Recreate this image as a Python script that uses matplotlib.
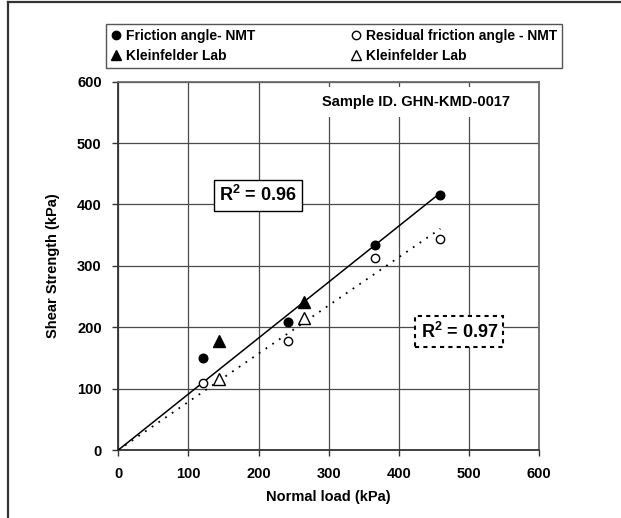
import matplotlib.pyplot as plt
import numpy as np
from matplotlib.lines import Line2D

plt.rcParams['font.family'] = ['Liberation Sans', 'DejaVu Sans']
plt.rcParams['font.weight'] = 'bold'
plt.rcParams['mathtext.fontset'] = 'custom'
plt.rcParams['mathtext.rm'] = 'Liberation Sans:bold'
plt.rcParams['mathtext.bf'] = 'Liberation Sans:bold'

# friction angle - NMT
nmt_x = [120, 242, 366, 459]
nmt_y = [150, 208, 334, 415]
# residual friction angle - NMT
res_x = [120, 242, 366, 459]
res_y = [109, 177, 312, 344]
# Kleinfelder lab
kl_x = [143, 264]
kl_y = [177, 241]
kl_res_y = [116, 215]

r2_peak = 0.96
r2_res = 0.97
sample_id = 'Sample ID. GHN-KMD-0017'

fig = plt.figure(figsize=(6.21, 5.18), dpi=100)
ax = fig.add_axes([118.3 / 621, 1 - 450 / 518, 421 / 621, 368.3 / 518])

# fits through the origin
def fit0(x, y):
    x = np.asarray(x, float)
    y = np.asarray(y, float)
    return (x * y).sum() / (x * x).sum()

k1 = fit0(nmt_x, nmt_y)
k2 = fit0(res_x, res_y)
xx = np.array([0, max(nmt_x)])
ax.plot(xx, k1 * xx, color='black', lw=1.1, zorder=3)
ax.plot(xx, k2 * xx, color='black', lw=1.3, ls=(0, (1, 3.5)), zorder=3)

ax.plot(nmt_x, nmt_y, 'o', color='black', ms=6.2, zorder=4)
ax.plot(res_x, res_y, 'o', mfc='white', mec='black', mew=1.0, ms=6.0, zorder=4)
ax.plot(kl_x, kl_y, '^', color='black', ms=8, zorder=4)
ax.plot(kl_x, kl_res_y, '^', mfc='white', mec='black', mew=1.0, ms=8, zorder=4)

ax.set_xlim(0, 600)
ax.set_ylim(0, 600)
ax.set_xticks(range(0, 601, 100))
ax.set_yticks(range(0, 601, 100))
ax.grid(True, color='#4a4a4a', lw=0.9)
ax.set_axisbelow(True)
for s in ax.spines.values():
    s.set_color('#6a6a6a')
    s.set_linewidth(1.3)
ax.spines['left'].set_color('#333333')
ax.spines['bottom'].set_color('#333333')
ax.tick_params(direction='out', length=4, width=1, color='#333333',
               labelsize=10.5, pad=8)
ax.set_xlabel('Normal load (kPa)', fontsize=10.5, fontweight='bold', labelpad=7)
ax.set_ylabel('Shear Strength (kPa)', fontsize=10.5, fontweight='bold', labelpad=12)

ax.text(424, 567, sample_id, ha='center', va='center', fontsize=10.5,
        fontweight='bold', zorder=5,
        bbox=dict(facecolor='white', edgecolor='none', pad=6))

ax.text(199, 415, 'R$^{2}$ = %.2f' % r2_peak, ha='center', va='center',
        fontsize=13, fontweight='bold', zorder=5,
        bbox=dict(facecolor='white', edgecolor='black', lw=1,
                  boxstyle='square,pad=0.3'))
ax.text(486, 193, 'R$^{2}$ = %.2f' % r2_res, ha='center', va='center',
        fontsize=13, fontweight='bold', zorder=5,
        bbox=dict(facecolor='white', edgecolor='black', lw=1.5, ls=(0, (2, 2)),
                  boxstyle='square,pad=0.3'))

handles = [
    Line2D([], [], ls='none', marker='o', color='black', ms=6),
    Line2D([], [], ls='none', marker='^', color='black', ms=7),
    Line2D([], [], ls='none', marker='o', mfc='white', mec='black', ms=6),
    Line2D([], [], ls='none', marker='^', mfc='white', mec='black', ms=7),
]
labels = ['Friction angle- NMT', 'Kleinfelder Lab',
          'Residual friction angle - NMT', 'Kleinfelder Lab']
leg = fig.legend(handles, labels, ncol=2, mode='expand',
                 bbox_to_anchor=(106 / 621, 1 - 68 / 518, 456 / 621, 49 / 518),
                 loc='lower left', fontsize=10, handlelength=0.8,
                 handletextpad=0.3, labelspacing=0.45, borderaxespad=0,
                 fancybox=False, edgecolor='#555555', framealpha=1,
                 borderpad=0.35)
leg.get_frame().set_linewidth(1.0)
for t in leg.get_texts():
    t.set_fontweight('bold')

# figure frame (left and top edges)
fig.add_artist(Line2D([8 / 621, 8 / 621], [0, 1 - 1.7 / 518],
                      transform=fig.transFigure, color='#333333', lw=1.6))
fig.add_artist(Line2D([8 / 621, 1], [1 - 1.7 / 518, 1 - 1.7 / 518],
                      transform=fig.transFigure, color='#333333', lw=1.6))

fig.savefig('out.png', dpi=100)
